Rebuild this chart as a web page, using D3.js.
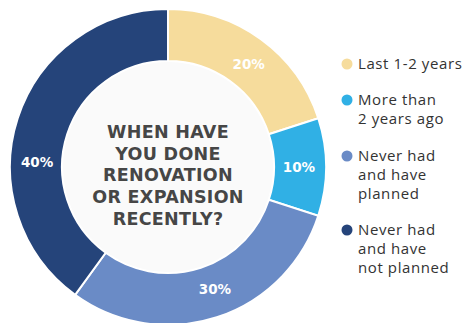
<!DOCTYPE html>
<html lang="en">
<head>
    <meta charset="UTF-8">
    <title>When have you done renovation or expansion recently?</title>
    <script src="https://d3js.org/d3.v7.min.js"></script>
    <style>
        body { margin: 0; background: #fff; }
        svg { display: block; }
    </style>
</head>
<body>
    <div id="chart"></div>
    <script type="text/javascript">
        // data
        let categories = ["Last 1-2 years", "More than 2 years ago", "Never had and have planned", "Never had and have not planned"]
        let legendLines = [["Last 1-2 years"], ["More than", "2 years ago"], ["Never had", "and have", "planned"], ["Never had", "and have", "not planned"]]
        let values = [20, 10, 30, 40]
        let colors = ["#f6dc9c", "#30b0e5", "#6a8bc6", "#25447a"]
        let centerTitle = ["WHEN HAVE", "YOU DONE", "RENOVATION", "OR EXPANSION", "RECENTLY?"]

        let width = 463, height = 323
        let cx = 168, cy = 167
        let outerR = 158, innerR = 106

        let svg = d3.select("#chart").append("svg")
            .attr("width", width)
            .attr("height", height)

        let g = svg.append("g").attr("transform", "translate(" + cx + "," + cy + ")")

        let pie = d3.pie().sort(null).value(d => d)
        let arcs = pie(values)

        let arc = d3.arc().innerRadius(innerR).outerRadius(outerR)

        g.selectAll("path.slice")
            .data(arcs)
            .enter()
            .append("path")
            .attr("class", "slice")
            .attr("d", arc)
            .attr("fill", (d, i) => colors[i])
            .attr("stroke", "#fff")
            .attr("stroke-width", 2)

        // inner disc
        g.append("circle")
            .attr("r", innerR - 1)
            .attr("fill", "#fafafa")

        // percent labels (small angle nudge, the original places the 40% label at the left)
        let labelShift = [2, 0, -3, -16]
        let labelR = 131
        g.selectAll("text.pct")
            .data(arcs)
            .enter()
            .append("text")
            .attr("class", "pct")
            .attr("x", (d, i) => {
                let a = (d.startAngle + d.endAngle) / 2 + labelShift[i] * Math.PI / 180
                return labelR * Math.sin(a)
            })
            .attr("y", (d, i) => {
                let a = (d.startAngle + d.endAngle) / 2 + labelShift[i] * Math.PI / 180
                return -labelR * Math.cos(a)
            })
            .attr("dy", "0.36em")
            .attr("text-anchor", "middle")
            .style("font-family", "'DejaVu Sans', sans-serif")
            .style("font-weight", 700)
            .style("font-size", "13.5px")
            .attr("fill", "#fff")
            .text(d => d.data + "%")

        // title in the hole
        g.selectAll("text.title")
            .data(centerTitle)
            .enter()
            .append("text")
            .attr("class", "title")
            .attr("x", 0)
            .attr("y", (d, i) => (i - 2) * 21.6 + 8)
            .attr("dy", "0.36em")
            .attr("text-anchor", "middle")
            .style("font-family", "'DejaVu Sans', sans-serif")
            .style("font-weight", 700)
            .style("font-size", "17.5px")
            .style("letter-spacing", "0.3px")
            .attr("fill", "#464646")
            .text(d => d)

        // legend
        let legend = svg.append("g").attr("transform", "translate(347,0)")
        let itemY = [64, 100, 156, 230]
        legendLines.forEach((lines, i) => {
            let item = legend.append("g").attr("transform", "translate(0," + itemY[i] + ")")
            item.append("circle")
                .attr("r", 5.5)
                .attr("fill", colors[i])
            item.selectAll("text")
                .data(lines)
                .enter()
                .append("text")
                .attr("x", 11)
                .attr("y", (d, j) => j * 19)
                .attr("dy", "0.36em")
                .style("font-family", "'Open Sans', sans-serif")
                .style("font-size", "15px")
                .style("letter-spacing", "0.6px")
                .attr("fill", "#333")
                .text(d => d)
        })
    </script>
</body>
</html>
